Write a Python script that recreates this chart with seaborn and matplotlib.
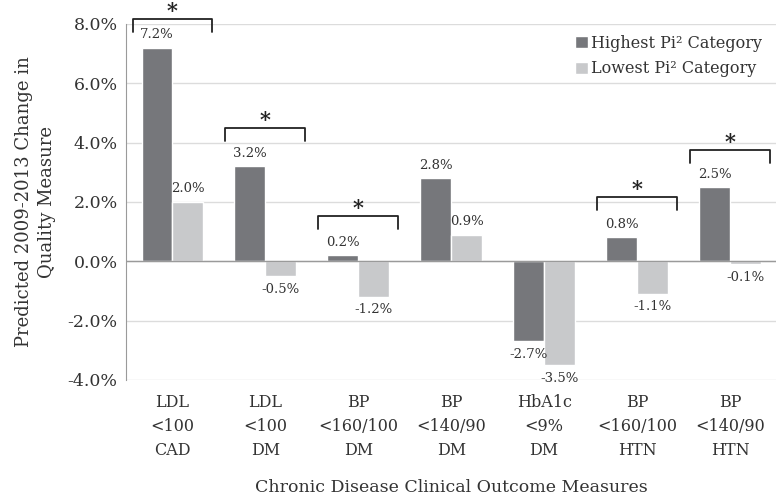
import pandas as pd
import seaborn as sns
from matplotlib import pyplot as plt

# chart data
measures = ["LDL\n<100\nCAD", "LDL\n<100\nDM", "BP\n<160/100\nDM", "BP\n<140/90\nDM",
            "HbA1c\n<9%\nDM", "BP\n<160/100\nHTN", "BP\n<140/90\nHTN"]
highest = [7.2, 3.2, 0.2, 2.8, -2.7, 0.8, 2.5]
lowest = [2.0, -0.5, -1.2, 0.9, -3.5, -1.1, -0.1]
series_names = ["Highest Pi² Category", "Lowest Pi² Category"]
# significance brackets: group index, bracket top (%)
sig_groups = [0, 1, 2, 5, 6]
sig_tops = [8.17, 4.49, 1.52, 2.16, 3.75]

DARK = "#76777b"
LIGHT = "#c8c9cb"

df = pd.DataFrame({
    "measure": measures * 2,
    "value": highest + lowest,
    "series": [series_names[0]] * len(measures) + [series_names[1]] * len(measures),
})

sns.set_style("white")
plt.rcParams["font.family"] = ["DejaVu Serif"]

fig = plt.figure(figsize=(7.78, 4.96), dpi=100)
ax = fig.add_axes([0.162, 0.234, 0.836, 0.718])

sns.barplot(data=df, x="measure", y="value", hue="series", palette=[DARK, LIGHT],
            width=0.667, gap=0, saturation=1, ax=ax, errorbar=None)

ax.set_ylim(-4, 8)
ax.set_xlim(-0.5, len(measures) - 0.5)
ax.set_yticks([-4, -2, 0, 2, 4, 6, 8])
ax.set_yticklabels([f"{v:.1f}%" for v in [-4, -2, 0, 2, 4, 6, 8]], fontsize=12.5, color="#333333")
ax.set_xticks(range(len(measures)))
ax.set_xticklabels(measures, fontsize=11.5, color="#333333", linespacing=1.55)
ax.tick_params(axis="x", length=0, pad=10)
ax.tick_params(axis="y", length=0, pad=6)
ax.yaxis.grid(True, color="#dcdcdc", linewidth=1)
ax.set_axisbelow(True)
ax.axhline(0, color="#9a9a9a", linewidth=1, zorder=1)
for s in ["top", "right", "bottom"]:
    ax.spines[s].set_visible(False)
ax.spines["left"].set_color("#9a9a9a")

ax.set_ylabel("Predicted 2009-2013 Change in\nQuality Measure", fontsize=13, color="#333333",
              labelpad=8, linespacing=1.4)
ax.set_xlabel("Chronic Disease Clinical Outcome Measures", fontsize=12.5, color="#333333", labelpad=14)

# value labels
for cont in ax.containers:
    for bar in cont:
        h = bar.get_height()
        x = bar.get_x() + bar.get_width() / 2
        if h >= 0:
            ax.text(x, h + 0.22, f"{h:.1f}%", ha="center", va="bottom", fontsize=9.5, color="#333333")
        else:
            ax.text(x, h - 0.22, f"{h:.1f}%", ha="center", va="top", fontsize=9.5, color="#333333")

# significance brackets
for g, top in zip(sig_groups, sig_tops):
    ax.plot([g - 0.43, g - 0.43, g + 0.43, g + 0.43], [top - 0.43, top, top, top - 0.43],
            color="#222222", linewidth=1.3, clip_on=False)
    ax.text(g, top + 0.06, "*", ha="center", va="baseline", fontsize=15, fontweight="bold",
            color="#222222", clip_on=False)

leg = ax.legend(loc="upper right", bbox_to_anchor=(1.0, 1.01), frameon=False, fontsize=11.5,
                handlelength=0.8, handleheight=0.8, handletextpad=0.2, labelspacing=0.55)
for t in leg.get_texts():
    t.set_color("#333333")

fig.savefig("out.png", dpi=100)
